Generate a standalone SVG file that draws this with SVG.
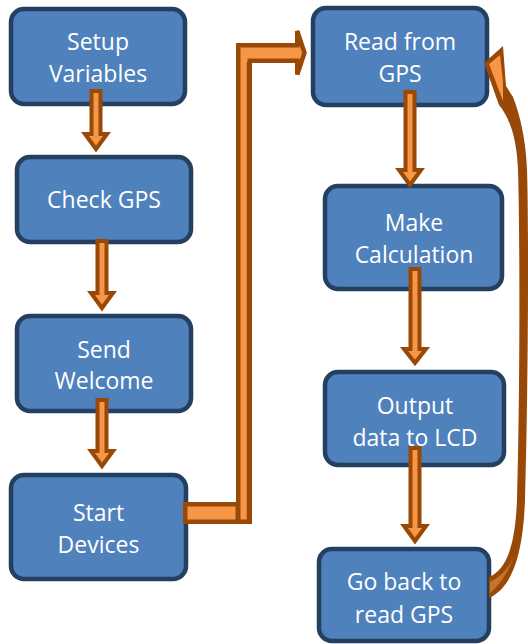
<svg xmlns="http://www.w3.org/2000/svg" width="528" height="644" viewBox="0 0 528 644">
  <style>
    .box { fill: #4F81BD; stroke: #243F60; stroke-width: 4.5; }
    .lbl { font-family: "Open Sans", "Liberation Sans", sans-serif; font-size: 23px; fill: #FFFFFF; text-anchor: middle; }
    .arrow { fill: #F79646; stroke: #984807; stroke-width: 4; stroke-linejoin: miter; }
    .elbow { fill: #F79646; stroke: #984807; stroke-width: 4.5; stroke-linejoin: miter; }
  </style>

  <!-- process steps -->
  <g id="setup-variables">
    <rect class="box" x="11" y="9" width="174" height="95" rx="13"/>
    <text class="lbl" x="98" y="50">Setup</text>
    <text class="lbl" x="98" y="82">Variables</text>
  </g>
  <g id="check-gps">
    <rect class="box" x="17" y="157" width="174" height="85" rx="13"/>
    <text class="lbl" x="104" y="208">Check GPS</text>
  </g>
  <g id="send-welcome">
    <rect class="box" x="17" y="316" width="174" height="95" rx="13"/>
    <text class="lbl" x="104" y="358">Send</text>
    <text class="lbl" x="104" y="389">Welcome</text>
  </g>
  <g id="start-devices">
    <rect class="box" x="11" y="475" width="175" height="104" rx="13"/>
    <text class="lbl" x="98.5" y="521">Start</text>
    <text class="lbl" x="98.5" y="553">Devices</text>
  </g>
  <g id="read-from-gps">
    <rect class="box" x="313" y="8" width="174" height="97" rx="13"/>
    <text class="lbl" x="400" y="50">Read from</text>
    <text class="lbl" x="400" y="82">GPS</text>
  </g>
  <g id="make-calculation">
    <rect class="box" x="325" y="186" width="177" height="103" rx="13"/>
    <text class="lbl" x="414" y="231">Make</text>
    <text class="lbl" x="414" y="263">Calculation</text>
  </g>
  <g id="output-data">
    <rect class="box" x="325" y="372" width="179" height="93" rx="13"/>
    <text class="lbl" x="415" y="414">Output</text>
    <text class="lbl" x="415" y="446">data to LCD</text>
  </g>
  <g id="go-back">
    <rect class="box" x="319" y="549" width="170" height="92" rx="13"/>
    <text class="lbl" x="404" y="590">Go back to</text>
    <text class="lbl" x="404" y="623">read GPS</text>
  </g>

  <!-- connectors -->
  <g id="connectors">
    <!-- straight block arrows -->
    <path class="arrow" d="M91.5,91 H100.5 V134 H107 L96,149 L85,134 H91.5 Z"/>
    <path class="arrow" d="M97.5,241 H106.5 V293 H113 L102,308 L91,293 H97.5 Z"/>
    <path class="arrow" d="M97.5,400 H106.5 V451 H113 L102,466 L91,451 H97.5 Z"/>
    <path class="arrow" d="M405.5,92 H414.5 V170 H421 L410,185 L399,170 H405.5 Z"/>
    <path class="arrow" d="M410.5,269 H419.5 V349 H426 L415,363 L404,349 H410.5 Z"/>
    <path class="arrow" d="M410.5,448 H419.5 V526 H426 L415,541 L404,526 H410.5 Z"/>

    <!-- bent arrow from Start Devices up to Read from GPS -->
    <rect class="elbow" x="185.25" y="504.25" width="52.5" height="17.5"/>
    <path class="elbow" d="M238.25,521.75 V45.25 H297.25 V31 L304.5,52.75 L297.25,74.5 V60.75 H249.75 V521.75 Z"/>
    <line x1="247.5" y1="62" x2="247.5" y2="520" stroke="#984807" stroke-width="1.5"/>

    <!-- curved return arrow from Go back to read GPS -->
    <path fill="#984807" d="M489,598 C512,588 523,555 525,500 C528,400 529,230 527,170 C526,140 520,115 513,97 L506,86 L503,46 L484,63 L499,105 C510,118 517,140 518,170 C520,230 520,400 517,500 C515,550 505,570 489,577 Z"/>
    <path fill="#F79646" d="M489,64 L500,55 L503,82 L503,101 Z"/>
    <path fill="#C8732E" d="M490,582 C503,576 512,564 516,550 C510,570 500,585 490,593 Z"/>
  </g>
</svg>
